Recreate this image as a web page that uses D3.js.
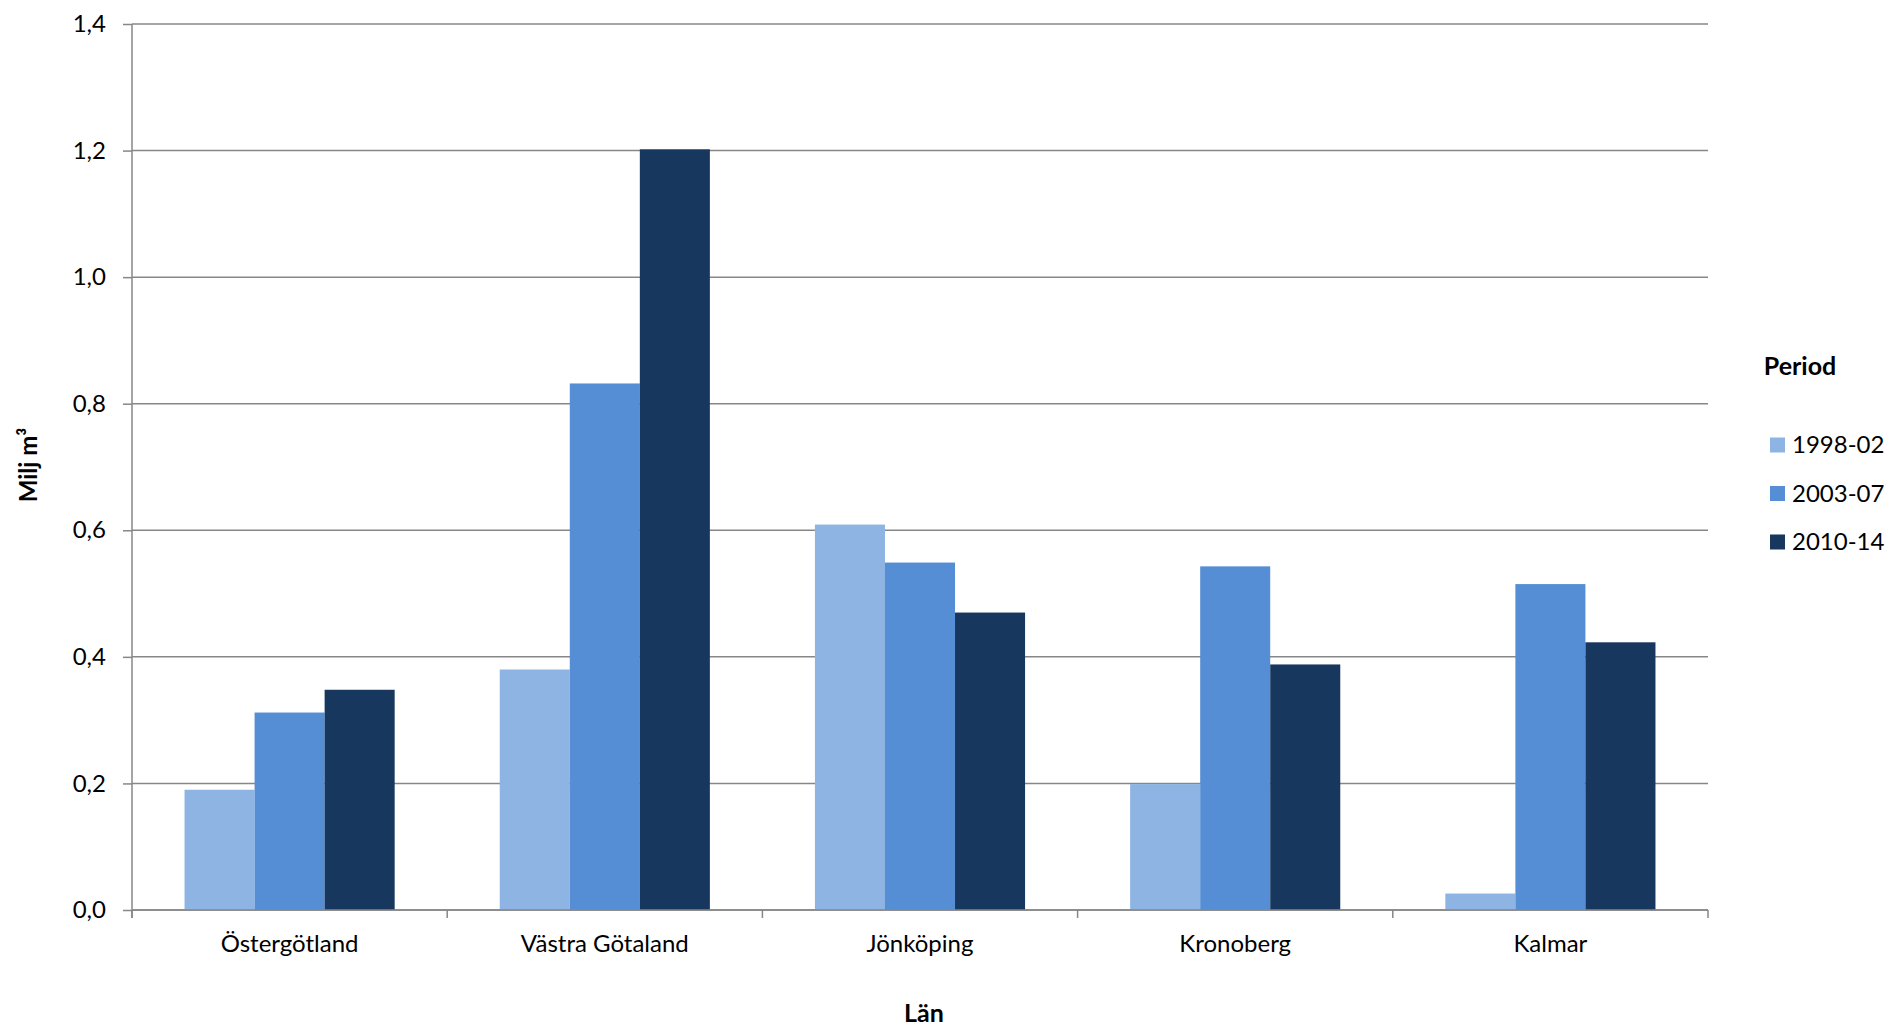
<!DOCTYPE html>
<html>
<head>
<meta charset="utf-8">
<script src="https://cdn.jsdelivr.net/npm/d3@7"></script>
<style>
  html, body { margin: 0; padding: 0; background: #ffffff; }
  svg { display: block; }
  text { font-family: Lato, "Open Sans", "Noto Sans", sans-serif; fill: #000; }
</style>
</head>
<body>
<svg id="chart" width="1886" height="1029"></svg>
<script>
// ---- data ----
const categories = ["Östergötland", "Västra Götaland", "Jönköping", "Kronoberg", "Kalmar"];
const seriesNames = ["1998-02", "2003-07", "2010-14"];
const values_1998_02 = [0.190, 0.380, 0.609, 0.199, 0.026];
const values_2003_07 = [0.312, 0.832, 0.549, 0.543, 0.515];
const values_2010_14 = [0.348, 1.202, 0.470, 0.388, 0.423];
const yTicks = [0, 0.2, 0.4, 0.6, 0.8, 1.0, 1.2, 1.4];
const colors = ["#8EB4E3", "#558ED5", "#17375E"];
const yTitle = "Milj m³";
const xTitle = "Län";
const legendTitle = "Period";

const seriesValues = [values_1998_02, values_2003_07, values_2010_14];

// ---- layout ----
const svg = d3.select("#chart");
const plotLeft = 132, plotRight = 1708, plotTop = 24, plotBottom = 910;

const x0 = d3.scaleBand().domain(categories).range([plotLeft, plotRight]).padding(0);
// gap width 150% -> group occupies 3/(3+1.5) of band
const groupW = x0.bandwidth() * 3 / 4.5;
const x1 = d3.scaleBand().domain(seriesNames).range([0, groupW]).padding(0);
const y = d3.scaleLinear().domain([0, 1.4]).range([plotBottom, plotTop]);

const locale = d3.formatLocale({decimal: ",", thousands: " ", grouping: [3], currency: ["", " kr"]});
const fmt = locale.format(".1f");

const gridColor = "#878787";

// gridlines
svg.append("g")
  .selectAll("line")
  .data(yTicks)
  .join("line")
  .attr("x1", plotLeft).attr("x2", plotRight)
  .attr("y1", d => y(d)).attr("y2", d => y(d))
  .attr("stroke", gridColor).attr("stroke-width", 1.5);

// bars
const groups = svg.append("g")
  .selectAll("g")
  .data(categories)
  .join("g")
  .attr("transform", c => `translate(${x0(c) + (x0.bandwidth() - groupW) / 2},0)`);

groups.selectAll("rect")
  .data((c, i) => seriesNames.map((s, j) => ({s, v: seriesValues[j][i], j})))
  .join("rect")
  .attr("x", d => x1(d.s))
  .attr("width", x1.bandwidth())
  .attr("y", d => y(d.v))
  .attr("height", d => y(0) - y(d.v))
  .attr("fill", d => colors[d.j]);

// y axis
const yAxis = d3.axisLeft(y).tickValues(yTicks).tickFormat(fmt).tickSize(9).tickPadding(17);
const gy = svg.append("g").attr("transform", `translate(${plotLeft},0)`).call(yAxis);
gy.select(".domain").attr("stroke", gridColor).attr("stroke-width", 1.5).attr("d", `M0,${plotTop}V${plotBottom + 8}`);
gy.selectAll(".tick line").attr("stroke", gridColor).attr("stroke-width", 1.5);
gy.selectAll(".tick text").style("font-size", "24px").style("font-family", "Lato, sans-serif").attr("fill", "#000");

// x axis
const xAxis = d3.axisBottom(x0).tickSize(0).tickPadding(0);
const gx = svg.append("g").attr("transform", `translate(0,${plotBottom})`).call(xAxis);
gx.select(".domain").attr("stroke", gridColor).attr("stroke-width", 1.5).attr("d", `M${plotLeft},0H${plotRight}`);
gx.selectAll(".tick text").attr("dy", null).attr("y", 42)
  .style("font-size", "24px").style("font-family", "Lato, sans-serif").attr("fill", "#000");

// boundary ticks on x axis
const bounds = categories.map(c => x0(c)).concat([plotRight]);
svg.append("g").selectAll("line").data(bounds).join("line")
  .attr("x1", d => d).attr("x2", d => d)
  .attr("y1", plotBottom).attr("y2", plotBottom + 8)
  .attr("stroke", gridColor).attr("stroke-width", 1.5);

// axis titles
svg.append("text")
  .attr("transform", "translate(37,465) rotate(-90)")
  .attr("text-anchor", "middle")
  .style("font-size", "24px").style("font-weight", "bold")
  .text(yTitle);

svg.append("text")
  .attr("x", (plotLeft + plotRight) / 2 + 4).attr("y", 1022)
  .attr("text-anchor", "middle")
  .style("font-size", "25px").style("font-weight", "bold")
  .text(xTitle);

// legend
const lg = svg.append("g");
lg.append("text")
  .attr("x", 1800).attr("y", 375)
  .attr("text-anchor", "middle")
  .style("font-size", "25px").style("font-weight", "bold")
  .text(legendTitle);

const legendY = d3.scalePoint().domain(seriesNames).range([445, 542]);
const items = lg.selectAll("g.item").data(seriesNames).join("g").attr("class", "item")
  .attr("transform", s => `translate(1770,${legendY(s)})`);
items.append("rect").attr("x", 0).attr("y", -7.5).attr("width", 15).attr("height", 15)
  .attr("fill", (s, i) => colors[i]);
items.append("text").attr("x", 22).attr("y", 0).attr("dy", "0.35em")
  .style("font-size", "24px").text(s => s);
</script>
</body>
</html>
